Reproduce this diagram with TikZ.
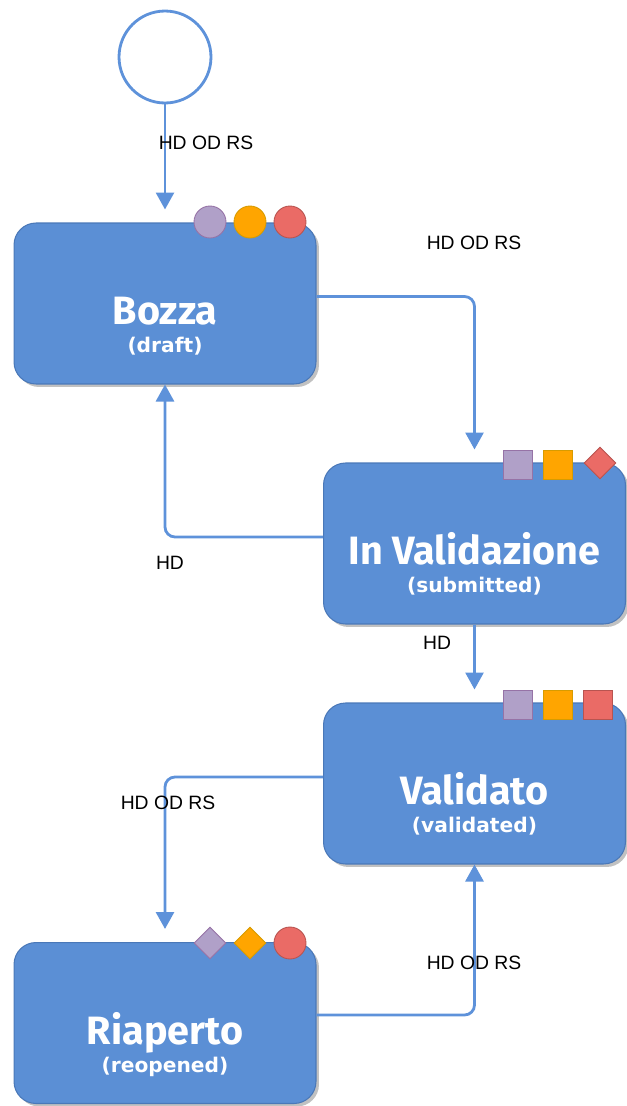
\documentclass[tikz,border=0pt]{standalone}
\usepackage{fontspec}
\setmainfont{Liberation Sans}
\newfontfamily\titlefont{Fira Sans}
\newfontfamily\subfont{DejaVu Sans}
\usepackage{tikz}
\usetikzlibrary{calc}
\usetikzlibrary{positioning}
\usetikzlibrary{shapes.geometric}
\usetikzlibrary{shadows}
\usetikzlibrary{arrows.meta}
\definecolor{boxblue}{HTML}{5B8FD5}
\definecolor{boxline}{HTML}{4A78B8}
\definecolor{flowblue}{HTML}{5E92DA}
\definecolor{lilafill}{HTML}{B0A0C8}
\definecolor{lilaline}{HTML}{9673A6}
\definecolor{orafill}{HTML}{FFA500}
\definecolor{oraline}{HTML}{D79B00}
\definecolor{redfill}{HTML}{EA6B66}
\definecolor{redline}{HTML}{B85450}

\tikzset{
  state/.style={draw=boxline, fill=boxblue, rounded corners=0.44cm,
    minimum width=6.04cm, minimum height=3.22cm, line width=0.6pt,
    drop shadow={shadow xshift=0.06cm, shadow yshift=-0.06cm, fill=black!35, opacity=0.7}},
  flow/.style={draw=flowblue, line width=1.6pt, rounded corners=0.2cm,
    -{Triangle[length=0.34cm,width=0.36cm]}},
  gap/.style={shorten >=0.26cm},
  lbl/.style={font=\fontsize{11}{13}\selectfont, inner sep=0pt},
  ttl/.style={text=white, inner sep=0pt, anchor=base,
    font=\titlefont\bfseries\fontsize{22.5}{26}\selectfont},
  sub/.style={text=white, inner sep=0pt, anchor=base,
    font=\subfont\bfseries\fontsize{11.5}{13}\selectfont},
  dot/.style={circle, minimum size=0.64cm, inner sep=0pt, line width=0.5pt},
  sq/.style={rectangle, minimum size=0.57cm, inner sep=0pt, line width=0.5pt},
  dia/.style={diamond, minimum size=0.64cm, inner sep=0pt, line width=0.5pt},
  lila/.style={fill=lilafill, draw=lilaline},
  ora/.style={fill=orafill, draw=oraline},
  rd/.style={fill=redfill, draw=redline}
}

\begin{document}
\begin{tikzpicture}[x=0.02cm, y=-0.02cm]
  \useasboundingbox (0,0) rectangle (626,1106);

  % start and states
  \node[circle, draw=flowblue, line width=1.6pt, minimum size=1.84cm, inner sep=0pt] (start) at (165,57) {};
  \node[state] (bozza) at (165,303.5) {};
  \node[state] (inval) at (474.5,543.5) {};
  \node[state] (valid) at (474.5,783.5) {};
  \node[state] (riap) at (165,1023) {};

  \node[ttl] (bozza-t) at ($(bozza.center)+(0,21)$) {Bozza};
  \node[sub] (bozza-s) at ($(bozza.center)+(0,49)$) {(draft)};
  \node[ttl] (inval-t) at ($(inval.center)+(0,21)$) {In Validazione};
  \node[sub] (inval-s) at ($(inval.center)+(0,49)$) {(submitted)};
  \node[ttl] (valid-t) at ($(valid.center)+(0,21)$) {Validato};
  \node[sub] (valid-s) at ($(valid.center)+(0,49)$) {(validated)};
  \node[ttl] (riap-t) at ($(riap.center)+(0,21)$) {Riaperto};
  \node[sub] (riap-s) at ($(riap.center)+(0,49)$) {(reopened)};

  % markers
  \node[dot,lila] (bozza-m1) at (210,222) {};
  \node[dot,ora] (bozza-m2) at (250,222) {};
  \node[dot,rd] (bozza-m3) at (290,222) {};
  \node[sq,lila] (inval-m1) at (518,465) {};
  \node[sq,ora] (inval-m2) at (558,465) {};
  \node[dia,rd] (inval-m3) at (600,463) {};
  \node[sq,lila] (valid-m1) at (518,705) {};
  \node[sq,ora] (valid-m2) at (558,705) {};
  \node[sq,rd] (valid-m3) at (598,705) {};
  \node[dia,lila] (riap-m1) at (210,943) {};
  \node[dia,ora] (riap-m2) at (250,943) {};
  \node[dot,rd] (riap-m3) at (290,943) {};

  % transitions
  \draw[flow,gap] (start) -- (bozza);
  \draw[flow,gap] ([yshift=0.14cm]bozza.east) -| (inval);
  \draw[flow] ([yshift=0.13cm]inval.west) -| (bozza);
  \draw[flow,gap] (inval) -- (valid);
  \draw[flow,gap] ([yshift=0.13cm]valid.west) -| (riap);
  \draw[flow] ([yshift=0.16cm]riap.east) -| (valid);

  \node[lbl] (l1) at (206,143) {HD OD RS};
  \node[lbl] (l2) at (474,243) {HD OD RS};
  \node[lbl] (l3) at (170,563) {HD};
  \node[lbl] (l4) at (437,643) {HD};
  \node[lbl] (l5) at (168,803) {HD OD RS};
  \node[lbl] (l6) at (474,963) {HD OD RS};
\end{tikzpicture}
\end{document}
